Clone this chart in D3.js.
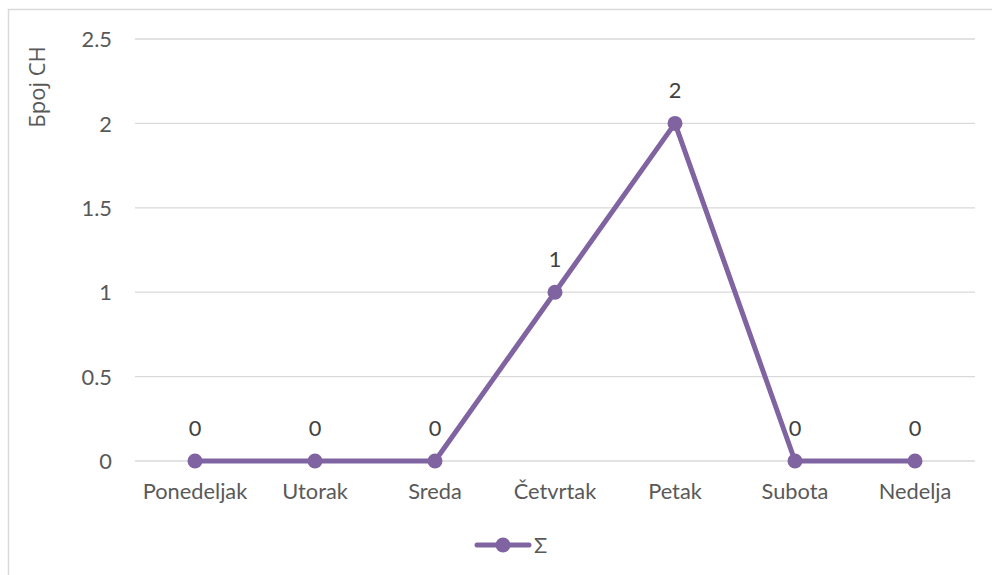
<!DOCTYPE html>
<html><head><meta charset="utf-8">
<script src="https://cdn.jsdelivr.net/npm/d3@7"></script>
<style>body{margin:0;background:#fff;}svg text{font-family:Lato,"Open Sans",sans-serif;}</style>
</head><body><svg id="c" width="992" height="575"></svg>
<script>
const categories = ["Ponedeljak","Utorak","Sreda","Četvrtak","Petak","Subota","Nedelja"];
const values = [0,0,0,1,2,0,0];
const yTicks = [0,0.5,1,1.5,2,2.5];
const seriesName = "Σ";
const yTitle = "Број СН";

const FS = "21.8px";
const svg = d3.select("#c");
const color = "#8064a2";
svg.append("rect").attr("x",8.5).attr("y",9.5).attr("width",1200).attr("height",1200)
  .attr("fill","none").attr("stroke","#d9d9d9").attr("stroke-width",1.5);

const x = d3.scaleBand().domain(categories).range([135,975]);
const y = d3.scaleLinear().domain([0,2.5]).range([461,39]);

const grid = svg.append("g");
grid.selectAll("line").data(yTicks).join("line")
  .attr("x1",135).attr("x2",975).attr("y1",d=>y(d)).attr("y2",d=>y(d))
  .attr("stroke","#d9d9d9").attr("stroke-width",1.3);

const yAxis = d3.axisLeft(y).tickValues(yTicks).tickSize(0).tickPadding(0).tickFormat(d=>String(d));
const ya = svg.append("g").attr("transform","translate(112,0)").call(yAxis);
ya.select(".domain").remove();
ya.selectAll("text").style("font-size",FS).style("font-family","Lato").attr("fill","#595959").attr("dy","0.35em");

const xAxis = d3.axisBottom(x).tickSize(0).tickPadding(0);
const xa = svg.append("g").attr("transform","translate(0,461)").call(xAxis);
xa.select(".domain").remove();
xa.selectAll("text").style("font-size",FS).style("font-family","Lato").attr("fill","#595959").attr("dy",0).attr("y",38);

svg.append("text").attr("transform","translate(37,87) rotate(-90)").attr("text-anchor","middle")
  .style("font-size","22px").style("font-family","'Open Sans'").attr("fill","#595959").attr("dy","0.35em").text(yTitle);

const cx = d=>x(d)+x.bandwidth()/2;
const line = d3.line().x((d,i)=>cx(categories[i])).y(d=>y(d));
svg.append("path").datum(values).attr("d",line).attr("fill","none")
  .attr("stroke",color).attr("stroke-width",5).attr("stroke-linejoin","round").attr("stroke-linecap","round");
svg.selectAll("circle.pt").data(values).join("circle").attr("class","pt")
  .attr("cx",(d,i)=>cx(categories[i])).attr("cy",d=>y(d)).attr("r",7.5).attr("fill",color);
svg.selectAll("text.lbl").data(values).join("text").attr("class","lbl")
  .attr("x",(d,i)=>cx(categories[i])).attr("y",d=>y(d)-33).attr("text-anchor","middle")
  .style("font-size",FS).style("font-family","Lato").attr("fill","#404040").attr("dy","0.35em").text(d=>d);

const lg = svg.append("g");
lg.append("line").attr("x1",477).attr("x2",529).attr("y1",545).attr("y2",545)
  .attr("stroke",color).attr("stroke-width",5).attr("stroke-linecap","round");
lg.append("circle").attr("cx",503).attr("cy",545).attr("r",7.5).attr("fill",color);
lg.append("text").attr("x",534).attr("y",545).attr("dy","0.35em").style("font-size",FS).style("font-family","Lato")
  .attr("fill","#595959").text(seriesName);
</script></body></html>
